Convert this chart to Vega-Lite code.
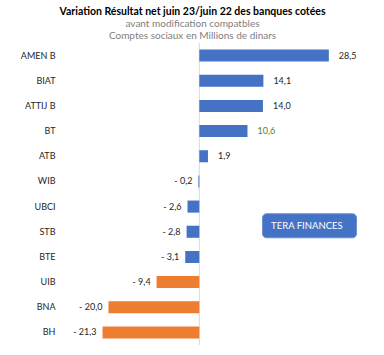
{
  "$schema": "https://vega.github.io/schema/vega-lite/v6.json",
  "autosize": "none",
  "width": 309,
  "height": 302,
  "padding": {"left": 63, "top": 43, "right": 12, "bottom": 10},
  "background": "white",
  "config": {"view": {"stroke": null}, "font": "Lato"},
  "title": {
    "text": "Variation Résultat net juin 23/juin 22 des banques cotées",
    "subtitle": ["avant modification compatbles", "Comptes sociaux en Millions de dinars"],
    "anchor": "middle",
    "frame": "group",
    "dx": -25,
    "offset": 2,
    "font": "Lato",
    "fontSize": 10.5,
    "fontWeight": "bold",
    "color": "#000000",
    "subtitleFont": "Lato",
    "subtitleFontSize": 10,
    "subtitleColor": "#808080",
    "subtitleLineHeight": 12,
    "subtitlePadding": 1
  },
  "datasets": {
    "banques": [
      {"banque": "AMEN B", "variation": 28.5, "etiquette": "28,5", "groupe": "A"},
      {"banque": "BIAT", "variation": 14.1, "etiquette": "14,1", "groupe": "A"},
      {"banque": "ATTIJ B", "variation": 14.0, "etiquette": "14,0", "groupe": "A"},
      {"banque": "BT", "variation": 10.6, "etiquette": "10,6", "groupe": "A"},
      {"banque": "ATB", "variation": 1.9, "etiquette": "1,9", "groupe": "A"},
      {"banque": "WIB", "variation": -0.2, "etiquette": "- 0,2", "groupe": "A"},
      {"banque": "UBCI", "variation": -2.6, "etiquette": "- 2,6", "groupe": "A"},
      {"banque": "STB", "variation": -2.8, "etiquette": "- 2,8", "groupe": "A"},
      {"banque": "BTE", "variation": -3.1, "etiquette": "- 3,1", "groupe": "A"},
      {"banque": "UIB", "variation": -9.4, "etiquette": "- 9,4", "groupe": "B"},
      {"banque": "BNA", "variation": -20.0, "etiquette": "- 20,0", "groupe": "B"},
      {"banque": "BH", "variation": -21.3, "etiquette": "- 21,3", "groupe": "B"}
    ],
    "cartouche": [
      {"banque": "STB", "debut": 13.9, "fin": 34.6, "texte_x": 15.8, "texte": "TERA FINANCES"}
    ],
    "zero": [{"x": 0}]
  },
  "layer": [
    {
      "data": {"name": "zero"},
      "mark": {"type": "rule", "color": "#d9d9d9", "strokeWidth": 1},
      "encoding": {
        "x": {"field": "x", "type": "quantitative", "scale": {"domain": [-30, 38], "nice": false}, "axis": null}
      }
    },
    {
      "data": {"name": "banques"},
      "mark": {"type": "bar"},
      "encoding": {
        "y": {
          "field": "banque",
          "type": "nominal",
          "sort": ["AMEN B", "BIAT", "ATTIJ B", "BT", "ATB", "WIB", "UBCI", "STB", "BTE", "UIB", "BNA", "BH"],
          "scale": {"paddingInner": 0.52, "paddingOuter": 0.26},
          "axis": {"title": null, "domain": false, "ticks": false, "labelPadding": 8, "labelFontSize": 9, "labelColor": "#262626", "labelFont": "Lato"}
        },
        "x": {"field": "variation", "type": "quantitative", "scale": {"domain": [-30, 38], "nice": false, "zero": true}, "axis": null},
        "color": {"field": "groupe", "type": "nominal", "scale": {"domain": ["A", "B"], "range": ["#4472C4", "#ED7D31"]}, "legend": null}
      }
    },
    {
      "data": {"name": "banques"},
      "transform": [{"filter": "datum.variation >= 0"}],
      "mark": {"type": "text", "align": "left", "dx": 10, "baseline": "middle", "fontSize": 9, "font": "Lato"},
      "encoding": {
        "y": {"field": "banque", "type": "nominal", "sort": ["AMEN B", "BIAT", "ATTIJ B", "BT", "ATB", "WIB", "UBCI", "STB", "BTE", "UIB", "BNA", "BH"]},
        "x": {"field": "variation", "type": "quantitative"},
        "text": {"field": "etiquette"},
        "color": {"condition": {"test": "datum.banque === 'BT'", "value": "#548235"}, "value": "#262626"}
      }
    },
    {
      "data": {"name": "banques"},
      "transform": [{"filter": "datum.variation < 0"}],
      "mark": {"type": "text", "align": "right", "dx": -6, "baseline": "middle", "fontSize": 9, "font": "Lato", "color": "#262626"},
      "encoding": {
        "y": {"field": "banque", "type": "nominal", "sort": ["AMEN B", "BIAT", "ATTIJ B", "BT", "ATB", "WIB", "UBCI", "STB", "BTE", "UIB", "BNA", "BH"]},
        "x": {"field": "variation", "type": "quantitative"},
        "text": {"field": "etiquette"}
      }
    },
    {
      "data": {"name": "cartouche"},
      "mark": {"type": "bar", "color": "#4472C4", "height": 24, "yOffset": -6, "cornerRadius": 4, "stroke": "#6a8fd4", "strokeWidth": 1},
      "encoding": {
        "y": {"field": "banque", "type": "nominal", "sort": ["AMEN B", "BIAT", "ATTIJ B", "BT", "ATB", "WIB", "UBCI", "STB", "BTE", "UIB", "BNA", "BH"]},
        "x": {"field": "debut", "type": "quantitative"},
        "x2": {"field": "fin"}
      }
    },
    {
      "data": {"name": "cartouche"},
      "mark": {"type": "text", "color": "white", "align": "left", "baseline": "middle", "yOffset": -6, "fontSize": 9.5, "font": "Lato"},
      "encoding": {
        "y": {"field": "banque", "type": "nominal", "sort": ["AMEN B", "BIAT", "ATTIJ B", "BT", "ATB", "WIB", "UBCI", "STB", "BTE", "UIB", "BNA", "BH"]},
        "x": {"field": "texte_x", "type": "quantitative"},
        "text": {"field": "texte"}
      }
    }
  ]
}
